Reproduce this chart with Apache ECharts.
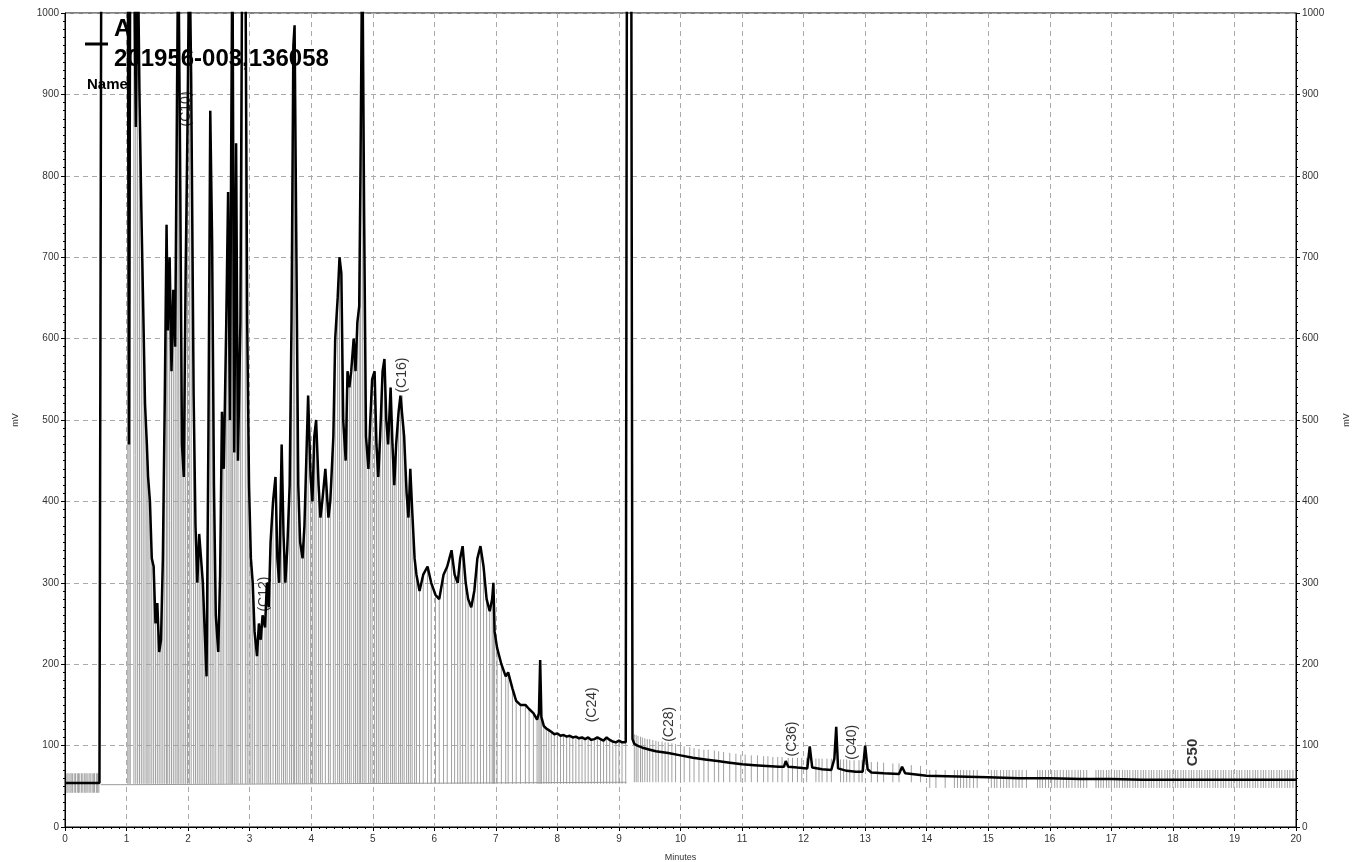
<!DOCTYPE html>
<html>
<head>
<meta charset="utf-8">
<script src="https://cdn.jsdelivr.net/npm/echarts@6/dist/echarts.min.js"></script>
<style>
  html, body { margin: 0; padding: 0; background: #fff; }
  #chart { width: 1354px; height: 862px; }
</style>
</head>
<body>
<div id="chart"></div>
<script>
// detector trace, [minutes, mV]  (values above 1000 are off-scale and get clipped)
const trace = [
  [0.00,54],[0.56,54],[0.58,54],[0.59,1100],[1.02,1100],[1.04,470],[1.06,1100],[1.12,1100],
  [1.15,860],[1.18,1100],[1.21,900],[1.24,760],[1.27,640],[1.30,520],[1.33,470],[1.35,430],
  [1.38,400],[1.41,330],[1.44,320],[1.47,250],[1.50,275],[1.53,215],[1.56,230],[1.59,330],
  [1.62,520],[1.65,740],[1.67,610],[1.70,700],[1.73,560],[1.76,660],[1.79,590],[1.82,900],
  [1.84,1100],[1.87,820],[1.90,470],[1.93,430],[1.96,680],[1.99,860],[2.02,1100],[2.05,920],
  [2.09,530],[2.12,370],[2.15,300],[2.18,360],[2.21,330],[2.24,300],[2.27,240],[2.30,185],
  [2.33,480],[2.36,880],[2.39,720],[2.42,420],[2.45,260],[2.49,215],[2.52,310],[2.55,510],
  [2.58,440],[2.62,620],[2.65,780],[2.68,500],[2.70,830],[2.72,1100],[2.75,460],[2.78,840],
  [2.81,450],[2.85,620],[2.88,1100],[2.93,1100],[2.96,620],[2.99,420],[3.02,330],[3.05,300],
  [3.08,240],[3.12,210],[3.15,250],[3.18,230],[3.21,260],[3.25,245],[3.28,300],[3.31,270],
  [3.34,350],[3.38,400],[3.42,430],[3.45,330],[3.48,300],[3.52,470],[3.55,360],[3.58,300],
  [3.61,340],[3.65,420],[3.68,620],[3.71,960],[3.73,985],[3.76,700],[3.79,420],[3.82,350],
  [3.86,330],[3.89,370],[3.92,450],[3.95,530],[3.99,430],[4.02,400],[4.05,480],[4.08,500],
  [4.12,420],[4.15,380],[4.18,400],[4.23,440],[4.28,380],[4.31,400],[4.36,480],[4.39,600],
  [4.43,650],[4.46,700],[4.49,680],[4.52,500],[4.56,450],[4.59,560],[4.62,540],[4.65,560],
  [4.69,600],[4.72,560],[4.75,620],[4.78,640],[4.80,800],[4.83,1100],[4.86,750],[4.89,480],
  [4.93,440],[4.96,500],[4.99,550],[5.03,560],[5.06,470],[5.09,430],[5.12,480],[5.16,560],
  [5.19,575],[5.22,500],[5.25,470],[5.29,540],[5.32,470],[5.35,420],[5.38,470],[5.42,510],
  [5.45,530],[5.48,530],[5.51,480],[5.55,410],[5.58,380],[5.61,440],[5.64,390],[5.68,330],
  [5.71,310],[5.76,290],[5.82,310],[5.89,320],[5.95,300],[6.02,285],[6.08,280],[6.15,310],
  [6.21,320],[6.28,340],[6.33,310],[6.38,300],[6.42,330],[6.46,345],[6.51,300],[6.55,280],
  [6.60,270],[6.65,290],[6.70,330],[6.75,345],[6.80,320],[6.85,280],[6.90,265],[6.94,280],
  [6.96,300],[6.98,240],[7.02,220],[7.09,200],[7.16,185],[7.20,190],[7.27,170],[7.33,155],
  [7.40,150],[7.48,150],[7.54,145],[7.61,140],[7.67,132],[7.70,140],[7.72,205],[7.74,135],
  [7.78,124],[7.82,121],[7.86,119],[7.90,117],[7.95,114],[8.00,115],[8.05,112],[8.10,113],
  [8.15,111],[8.20,112],[8.25,110],[8.30,111],[8.35,109],[8.40,110],[8.45,108],[8.50,110],
  [8.55,107],[8.60,108],[8.65,110],[8.70,108],[8.75,106],[8.80,110],[8.85,107],[8.90,105],
  [8.95,104],[9.00,106],[9.05,104],[9.11,104],[9.13,1100],[9.20,1100],[9.22,108],[9.25,102],
  [9.30,100],[9.40,97],[9.50,95],[9.60,93],[9.80,91],[10.00,88],[10.20,85],[10.40,83],
  [10.60,81],[10.80,79],[11.00,77],[11.20,76],[11.40,75],[11.60,74],[11.68,74],[11.71,81],
  [11.75,74],[11.90,73],[12.06,72],[12.10,99],[12.14,73],[12.30,71],[12.45,70],[12.50,84],
  [12.53,123],[12.56,72],[12.70,69],[12.85,68],[12.96,68],[13.00,100],[13.04,71],[13.10,67],
  [13.30,66],[13.55,65],[13.60,74],[13.65,66],[14.00,63],[14.50,62],[15.00,61],[15.50,60],
  [16.00,60],[16.50,59],[17.00,59],[17.50,58],[18.00,58],[18.50,58],[19.00,58],[19.50,58],
  [20.00,58]
];

// integration baseline (gray)
const baseline = [[0.58,52],[1.12,52],[1.12,54],[9.12,55]];
const dropBase = 53;

// gray event hash marks, [minutes, low mV, high mV]
const hashStart = [
  [0.03,42,66],[0.05,42,66],[0.08,42,66],[0.10,42,66],[0.12,42,66],[0.15,42,66],[0.17,42,66],
  [0.20,42,66],[0.22,42,66],[0.24,42,66],[0.27,42,66],[0.29,42,66],[0.32,42,66],[0.34,42,66],
  [0.36,42,66],[0.39,42,66],[0.41,42,66],[0.44,42,66],[0.46,42,66],[0.48,42,66],[0.51,42,66],
  [0.53,42,66],[0.55,42,66]
];
const hashMid = [
  [9.25,55,114],[9.28,55,113],[9.31,55,112],[9.35,55,111],[9.38,55,110],[9.42,55,109],[9.46,55,108],
  [9.50,55,108],[9.55,55,107],[9.60,55,106],[9.64,55,105],[9.70,55,105],[9.75,55,104],[9.80,55,104],
  [9.86,55,103],[9.92,55,102],[10.00,55,100],[10.06,55,99],[10.15,55,98],[10.22,55,97],[10.30,55,96],
  [10.38,55,95],[10.45,55,95],[10.55,55,94],[10.62,55,93],[10.70,55,92],[10.80,55,91],[10.90,55,90],
  [10.98,55,89],[11.05,55,89],[11.15,55,88],[11.25,55,88],[11.35,55,87],[11.42,55,87],[11.50,55,86],
  [11.58,55,86],[11.65,55,86],[11.75,55,85],[11.82,55,85],[11.90,55,85],[11.97,55,85],[12.05,55,85],
  [12.20,55,84],[12.25,55,84],[12.30,55,84],[12.38,55,84],[12.45,55,84],[12.60,55,83],[12.65,55,83],
  [12.70,55,83],[12.75,55,82],[12.82,55,82],[12.90,55,82],[12.95,55,82],[13.10,55,80],[13.20,55,80],
  [13.30,55,79],[13.45,55,78],[13.55,55,78],[13.75,55,76],[13.90,55,75]
];
const hashEndTimes = [
  14.05,14.15,14.30,14.45,14.50,14.55,14.60,14.65,14.70,14.76,14.82,15.05,15.10,15.14,15.20,15.25,
  15.30,15.34,15.40,15.45,15.50,15.55,15.62,15.80,15.84,15.88,15.93,15.98,16.03,16.08,16.12,16.17,
  16.22,16.27,16.31,16.36,16.41,16.46,16.50,16.55,16.60,16.75,16.79,16.83,16.87,16.92,16.96,17.00,
  17.05,17.09,17.13,17.18,17.22,17.26,17.30,17.35,17.39,17.43,17.48,17.52,17.56,17.61,17.65,17.69,
  17.74,17.78,17.82,17.87,17.91,17.95,18.00,18.04,18.08,18.13,18.17,18.21,18.26,18.30,18.34,18.39,
  18.43,18.47,18.52,18.56,18.60,18.65,18.69,18.73,18.78,18.82,18.86,18.91,18.95,18.99,19.04,19.08,
  19.12,19.17,19.21,19.25,19.30,19.34,19.38,19.43,19.47,19.51,19.56,19.60,19.64,19.69,19.73,19.77,
  19.82,19.86,19.90,19.95
];
const hashEndLow = 48;
const hashEndHigh = 70;

// peak name annotations (text bottom sits at [minutes, mV])
const peakTime = [1.98, 3.25, 5.48, 8.58, 9.83, 11.83, 12.79, 18.33];
const peakMv = [860, 264, 533, 128, 104, 86, 82, 74];
const peakName = ['(C10)', '(C12)', '(C16)', '(C24)', '(C28)', '(C36)', '(C40)', 'C50'];

const xTicks = { min: 0, max: 20, step: 1 };
const yTicks = { min: 0, max: 1000, step: 100 };

const FONT = '"Liberation Sans", Arial, sans-serif';

const dropLines = trace
  .filter(p => p[0] >= 1.0 && p[0] <= 9.12)
  .map(p => [p[0], dropBase, p[1]]);
const hashLines = hashStart
  .concat(hashMid)
  .concat(hashEndTimes.map(t => [t, hashEndLow, hashEndHigh]));

function segItem(params, api) {
  const a = api.coord([api.value(0), api.value(1)]);
  const b = api.coord([api.value(0), api.value(2)]);
  return {
    type: 'line',
    shape: { x1: a[0], y1: a[1], x2: b[0], y2: b[1] },
    style: { stroke: '#a0a0a0', lineWidth: 1 }
  };
}

const chart = echarts.init(document.getElementById('chart'), null, { renderer: 'canvas' });

const yAxisBase = {
  type: 'value',
  min: yTicks.min,
  max: yTicks.max,
  interval: yTicks.step,
  name: 'mV',
  nameLocation: 'middle',
  nameTextStyle: { fontSize: 9, color: '#333', fontFamily: FONT },
  axisLine: { show: true, lineStyle: { color: '#000', width: 1 } },
  axisTick: { show: true, length: 4, lineStyle: { color: '#000' } },
  minorTick: { show: true, splitNumber: 10, length: 2, lineStyle: { color: '#000' } },
  axisLabel: { fontSize: 10, color: '#333', fontFamily: FONT, margin: 6, formatter: v => String(v) }
};

const option = {
  animation: false,
  backgroundColor: '#fff',
  grid: {
    left: 65, right: 58, top: 13, bottom: 35,
    containLabel: false, outerBoundsMode: 'none',
    show: true, borderColor: '#000', borderWidth: 1
  },
  xAxis: {
    type: 'value',
    min: xTicks.min,
    max: xTicks.max,
    interval: xTicks.step,
    name: 'Minutes',
    nameLocation: 'middle',
    nameGap: 26,
    nameTextStyle: { fontSize: 9, color: '#333', fontFamily: FONT },
    axisLine: { show: true, onZero: false, lineStyle: { color: '#000', width: 1 } },
    axisTick: { show: true, length: 4, lineStyle: { color: '#000' } },
    minorTick: { show: true, splitNumber: 8, length: 2, lineStyle: { color: '#000' } },
    axisLabel: { fontSize: 10, color: '#333', fontFamily: FONT, margin: 7 },
    splitLine: { show: true, lineStyle: { color: '#aaa', type: [5, 4], width: 1 } }
  },
  yAxis: [
    Object.assign({}, yAxisBase, {
      position: 'left',
      nameGap: 45,
      splitLine: { show: true, lineStyle: { color: '#aaa', type: [5, 4], width: 1 } }
    }),
    Object.assign({}, yAxisBase, {
      position: 'right',
      nameGap: 46,
      splitLine: { show: false }
    })
  ],
  series: [
    {
      name: 'hash',
      type: 'custom',
      clip: true,
      silent: true,
      renderItem: segItem,
      data: hashLines,
      z: 1
    },
    {
      name: 'drop',
      type: 'custom',
      clip: true,
      silent: true,
      renderItem: segItem,
      data: dropLines,
      z: 1
    },
    {
      name: 'baseline',
      type: 'line',
      data: baseline,
      symbol: 'none',
      lineStyle: { color: '#9a9a9a', width: 1 },
      z: 2
    },
    {
      name: 'A',
      type: 'line',
      data: trace,
      symbol: 'none',
      clip: true,
      lineStyle: { color: '#000', width: 2.5 },
      z: 3
    },
    {
      name: 'peaks',
      type: 'scatter',
      symbolSize: 1,
      itemStyle: { color: 'rgba(0,0,0,0)' },
      data: peakTime.map((t, i) => ({
        value: [t, peakMv[i]],
        name: peakName[i],
        label: peakName[i] === 'C50' ? { fontWeight: 'bold', fontSize: 15 } : {}
      })),
      label: {
        show: true,
        formatter: p => p.name,
        position: [0, 0],
        rotate: 90,
        align: 'left',
        verticalAlign: 'middle',
        fontSize: 14,
        color: '#000',
        fontFamily: FONT
      },
      z: 4
    }
  ],
  graphic: [
    { type: 'line', shape: { x1: 85, y1: 44, x2: 108, y2: 44 }, style: { stroke: '#000', lineWidth: 3 }, z: 10 },
    { type: 'text', x: 114, y: 17, style: { text: 'A', font: 'bold 24px ' + FONT, fill: '#000', verticalAlign: 'top' }, z: 10 },
    { type: 'text', x: 114, y: 47, style: { text: '201956-003,136058', font: 'bold 24px ' + FONT, fill: '#000', verticalAlign: 'top' }, z: 10 },
    { type: 'text', x: 87, y: 77, style: { text: 'Name', font: 'bold 15px ' + FONT, fill: '#000', verticalAlign: 'top' }, z: 10 }
  ]
};

chart.setOption(option);
window.addEventListener('resize', () => chart.resize());
</script>
</body>
</html>
